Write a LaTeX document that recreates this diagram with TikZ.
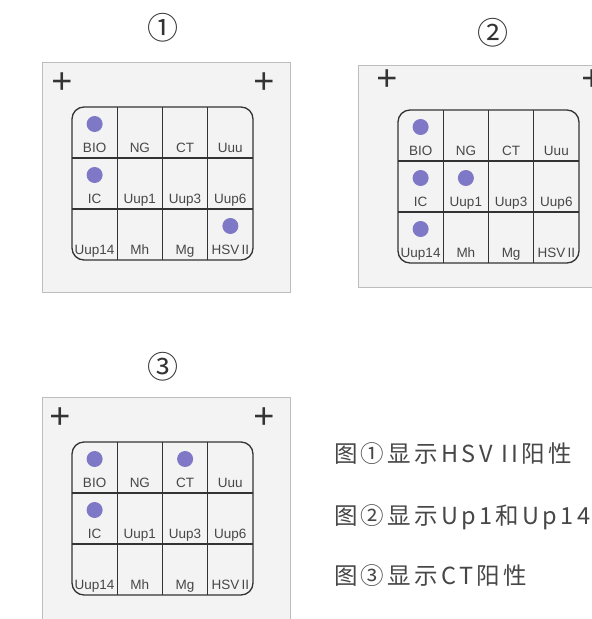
\documentclass[tikz,border=0pt]{standalone}
\usepackage{fontspec}
\setmainfont{Liberation Sans}
\newfontfamily\cjk{Noto Sans CJK SC}
\newfontfamily\cjkwide[LetterSpace=14]{Noto Sans CJK SC}
\definecolor{panelbg}{HTML}{F3F3F3}
\definecolor{panelborder}{HTML}{BDBDBD}
\definecolor{gridcol}{HTML}{333333}
\definecolor{dotcol}{HTML}{7F78C6}
\definecolor{txtcol}{HTML}{474747}
\tikzset{
  panelbox/.style={fill=panelbg, draw=panelborder, line width=1pt},
  gridline/.style={draw=gridcol, line width=1.3pt},
  lbl/.style={font=\fontsize{13.5}{13.5}\selectfont, text=txtcol, inner sep=0pt, anchor=base},
  dotnode/.style={circle, fill=dotcol, minimum size=16pt, inner sep=0pt},
  plusmark/.style={font=\fontsize{36}{36}\selectfont, text=gridcol, inner sep=0pt},
  circnum/.style={font=\cjk\fontsize{31}{31}\selectfont, text=gridcol, inner sep=0pt},
  caption/.style={font=\cjkwide\fontsize{23.5}{23.5}\selectfont, text=txtcol, anchor=west, inner sep=0pt},
}
\newcommand\drawgrid[4]{% name, gx, gy, dots list r/c
  \begin{scope}[shift={(#2,#3)}]
    \draw[gridline, rounded corners=12pt] (0,0) rectangle (181,153);
    \foreach \xx in {45.25,90.5,135.75} \draw[gridline] (\xx,0) -- (\xx,153);
    \foreach \yy in {51,102} \draw[gridline] (0,\yy) -- (181,\yy);
    \foreach \r/\c/\t in {1/1/BIO,1/2/NG,1/3/CT,1/4/Uuu,2/1/IC,2/2/Uup1,2/3/Uup3,2/4/Uup6,3/1/Uup14,3/2/Mh,3/3/Mg,3/4/HSV\,II}
      \node[lbl] (#1-\r-\c) at ({(\c-0.5)*45.25},{\r*51-5.5}) {\t};
    \foreach \r/\c in {#4}
      \node[dotnode] (#1-dot-\r-\c) at ({(\c-0.5)*45.25},{(\r-1)*51+17}) {};
  \end{scope}}
\begin{document}
\begin{tikzpicture}[x=1pt,y=-1pt]
\useasboundingbox (0,0) rectangle (592,619);
\fill[white] (0,0) rectangle (592,619);
% panel 1
\node[circnum] (n1) at (163,28) {①};
\draw[panelbox] (42,62) rectangle (290,292);
\node[plusmark] (p1a) at (62,83) {+};
\node[plusmark] (p1b) at (264,83) {+};
\drawgrid{g1}{72}{107}{1/1,2/1,3/4}
% panel 2
\node[circnum] (n2) at (493,33) {②};
\draw[panelbox] (358,65) rectangle (610,287);
\node[plusmark] (p2a) at (387,80) {+};
\node[plusmark] (p2b) at (592,80) {+};
\drawgrid{g2}{398}{110}{1/1,2/1,2/2,3/1}
% panel 3
\node[circnum] (n3) at (163,367) {③};
\draw[panelbox] (42,397) rectangle (290,640);
\node[plusmark] (p3a) at (60,418) {+};
\node[plusmark] (p3b) at (264,418) {+};
\drawgrid{g3}{72}{442}{1/1,1/3,2/1}
% captions
\node[caption] (c1) at (334,454) {图①显示HSV II阳性};
\node[caption] (c2) at (334,517) {图②显示Up1和Up14};
\node[caption] (c3) at (334,576) {图③显示CT阳性};
\end{tikzpicture}
\end{document}
